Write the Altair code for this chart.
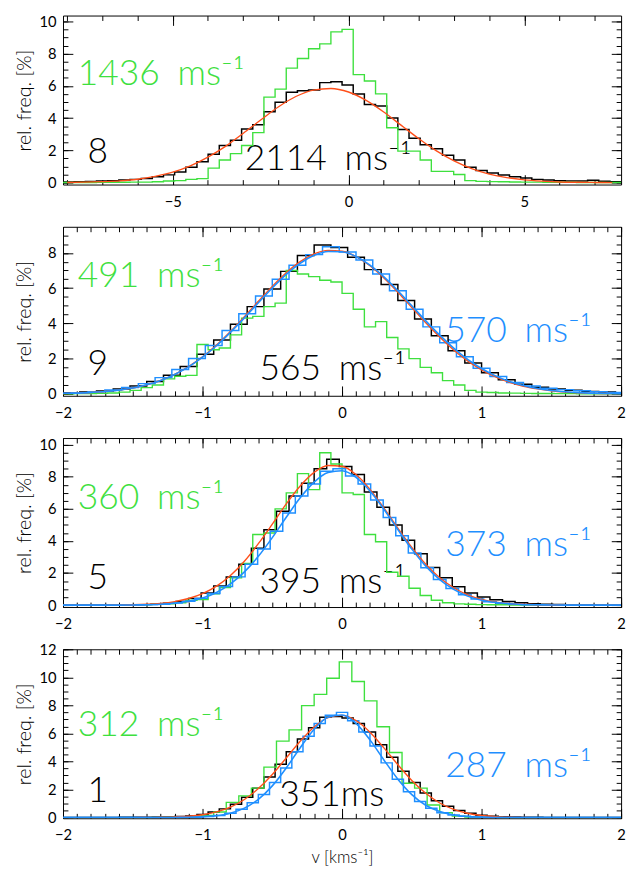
import altair as alt
import numpy as np
import pandas as pd

# ---------------- colours / fonts ----------------
GREEN = "#3ee03e"
BLACK = "#000000"
RED = "#ff4f1a"
BLUE = "#1f8fff"
FONT = "Lato"

# ---------------- Panel 1 (8) ----------------
P1_BIN0, P1_BINW = -8.12, 0.3174
P1_BLACK = [0.04, 0.05, 0.07, 0.10, 0.12, 0.16, 0.20, 0.26, 0.36, 0.48,
            0.66, 0.95, 1.30, 1.76, 2.30, 2.63, 3.33, 3.59, 4.39, 4.99,
            5.60, 5.70, 5.75, 6.20, 6.25, 6.05, 5.50, 4.85, 4.75, 4.00,
            3.30, 2.75, 2.35, 2.10, 1.70, 1.40, 0.95, 0.75, 0.60, 0.47,
            0.37, 0.28, 0.20, 0.16, 0.12, 0.10, 0.10, 0.14, 0.08, 0.06]
P1_GREEN = [0.01, 0.01, 0.01, 0.02, 0.02, 0.02, 0.03, 0.03, 0.05, 0.10,
            0.12, 0.20, 0.25, 0.90, 1.40, 1.80, 2.30, 3.10, 5.30, 5.80,
            7.10, 7.70, 8.30, 8.60, 9.35, 9.50, 6.70, 6.30, 5.50, 3.40,
            1.95, 1.95, 1.40, 0.70, 0.70, 0.50, 0.12, 0.08, 0.06, 0.05,
            0.04, 0.03, 0.03, 0.02, 0.02, 0.02, 0.01, 0.01, 0.01, 0.01]
P1_CX0, P1_CDX = -8.0, 0.5
P1_RED = [0.01, 0.03, 0.06, 0.11, 0.21, 0.39, 0.65, 1.04, 1.58, 2.25,
          3.05, 3.88, 4.69, 5.34, 5.74, 5.84, 5.62, 5.10, 4.38, 3.55,
          2.72, 1.97, 1.35, 0.87, 0.53, 0.31, 0.17, 0.09, 0.04, 0.02,
          0.01, 0.00]

# ---------------- Panel 2 (9) ----------------
P2_BLACK0, P2_BLACKW = -2.0, 0.12
P2_BLACK = [0.06, 0.10, 0.16, 0.28, 0.45, 0.70, 1.05, 1.55, 2.25, 3.05,
            3.95, 4.95, 5.95, 6.95, 7.85, 8.45, 8.30, 7.75, 7.05, 6.20,
            5.30, 4.25, 3.30, 2.45, 1.75, 1.20, 0.80, 0.55, 0.38, 0.27,
            0.20, 0.14, 0.10, 0.06]
P2_BLUE0, P2_BLUEW = -2.06, 0.12
P2_BLUE = [0.04, 0.06, 0.12, 0.22, 0.36, 0.58, 0.92, 1.38, 2.00, 2.75,
           3.60, 4.55, 5.55, 6.50, 7.30, 7.90, 8.35, 8.05, 7.60, 6.80,
           5.85, 4.80, 3.80, 2.90, 2.10, 1.45, 0.98, 0.65, 0.45, 0.32,
           0.24, 0.18, 0.12, 0.08]
P2_GREEN0, P2_GREENW = -2.0, 0.08
P2_GREEN = [0.00, 0.01, 0.02, 0.03, 0.05, 0.10, 0.20, 0.35, 0.50, 0.85,
            1.00, 1.05, 2.80, 2.50, 2.60, 3.35, 4.30, 4.40, 4.95, 5.15,
            7.00, 6.80, 6.65, 6.45, 6.35, 5.70, 4.80, 3.80, 4.10, 3.20,
            2.55, 2.00, 1.50, 1.20, 0.75, 0.50, 0.20, 0.10, 0.08, 0.05,
            0.04, 0.03, 0.02, 0.02, 0.01, 0.01, 0.00, 0.00, 0.00, 0.00]
CX0, CDX = -2.0, 0.1
P2_RED = [0.02, 0.04, 0.08, 0.13, 0.21, 0.33, 0.51, 0.76, 1.10, 1.55,
          2.10, 2.77, 3.54, 4.38, 5.25, 6.10, 6.87, 7.50, 7.94, 8.14,
          8.09, 7.79, 7.27, 6.58, 5.77, 4.90, 4.03, 3.22, 2.49, 1.87,
          1.36, 0.96, 0.65, 0.43, 0.28, 0.17, 0.10, 0.06, 0.03, 0.02, 0.01]
P2_BLUEC = [0.03, 0.04, 0.08, 0.13, 0.21, 0.33, 0.51, 0.76, 1.10, 1.53,
            2.08, 2.73, 3.49, 4.31, 5.17, 6.01, 6.78, 7.41, 7.86, 8.08,
            8.06, 7.79, 7.30, 6.64, 5.85, 5.00, 4.14, 3.33, 2.60, 1.96,
            1.44, 1.02, 0.70, 0.47, 0.30, 0.19, 0.12, 0.07, 0.04, 0.02, 0.01]

# ---------------- Panel 3 (5) ----------------
P3_BLACK0, P3_BLACKW = -2.0, 0.09
P3_BLACK = [0.01, 0.01, 0.01, 0.01, 0.01, 0.02, 0.03, 0.06, 0.12, 0.22, 0.42,
            0.75, 1.20, 1.75, 2.55, 3.55, 4.70, 5.85, 6.80, 7.60, 8.50,
            9.10, 8.65, 8.15, 7.05, 6.10, 5.00, 4.05, 3.20, 2.35, 1.70,
            1.15, 0.75, 0.50, 0.33, 0.22, 0.14, 0.09, 0.06, 0.04, 0.03,
            0.02, 0.02, 0.01, 0.01]
P3_BLUE0, P3_BLUEW = -2.045, 0.09
P3_BLUE = [0.00, 0.00, 0.00, 0.00, 0.00, 0.01, 0.01, 0.03, 0.06, 0.13,
           0.24, 0.42, 0.72, 1.16, 1.76, 2.55, 3.50, 4.60, 5.74, 6.80,
           7.55, 8.35, 8.50, 8.05, 7.55, 6.55, 5.47, 4.33, 3.25, 2.33,
           1.59, 1.04, 0.65, 0.38, 0.21, 0.11, 0.06, 0.03, 0.02, 0.01,
           0.01, 0.00, 0.00, 0.00, 0.00, 0.00]
P3_GREEN0, P3_GREENW = -2.0, 0.08
P3_GREEN = [0.00, 0.00, 0.00, 0.00, 0.01, 0.01, 0.02, 0.03, 0.05, 0.08,
            0.15, 0.30, 0.35, 0.70, 1.10, 1.70, 2.60, 4.40, 4.50, 6.00,
            7.00, 8.20, 7.20, 9.50, 8.80, 7.00, 6.90, 4.40, 3.95, 2.05,
            1.80, 1.05, 0.60, 0.30, 0.15, 0.08, 0.05, 0.03, 0.02, 0.02,
            0.01, 0.01, 0.01, 0.00, 0.00, 0.00, 0.00, 0.00, 0.00, 0.00]
P3_RED = [0.00, 0.00, 0.00, 0.00, 0.01, 0.02, 0.05, 0.11, 0.22, 0.41,
          0.71, 1.18, 1.85, 2.74, 3.83, 5.05, 6.31, 7.43, 8.28, 8.71,
          8.66, 8.14, 7.22, 6.06, 4.80, 3.60, 2.55, 1.70, 1.08, 0.64,
          0.36, 0.19, 0.10, 0.05, 0.02, 0.01, 0.00, 0.00, 0.00, 0.00, 0.00]
P3_BLUEC = [0.00, 0.00, 0.00, 0.00, 0.00, 0.01, 0.02, 0.05, 0.12, 0.24,
            0.44, 0.79, 1.32, 2.07, 3.04, 4.21, 5.48, 6.69, 7.67, 8.27,
            8.38, 7.97, 7.12, 5.98, 4.71, 3.49, 2.43, 1.59, 0.98, 0.56,
            0.30, 0.16, 0.08, 0.03, 0.02, 0.01, 0.00, 0.00, 0.00, 0.00, 0.00]

# ---------------- Panel 4 (1) ----------------
P4_BLACK0, P4_BLACKW = -2.0, 0.08
P4_BLACK = [0.00, 0.00, 0.00, 0.01, 0.01, 0.02, 0.02, 0.03, 0.04, 0.06,
            0.08, 0.12, 0.22, 0.40, 0.62, 0.95, 1.45, 2.10, 2.90, 3.80,
            4.70, 5.60, 6.40, 7.15, 7.20, 7.10, 6.70, 6.10, 5.20, 4.30,
            3.30, 2.50, 1.75, 1.20, 0.80, 0.50, 0.30, 0.17, 0.10, 0.06,
            0.04, 0.03, 0.02, 0.01, 0.01, 0.00, 0.00, 0.00, 0.00, 0.00]
P4_BLUE0, P4_BLUEW = -2.04, 0.08
P4_BLUE = [0.00, 0.00, 0.00, 0.00, 0.00, 0.00, 0.00, 0.00, 0.00, 0.01,
           0.01, 0.02, 0.04, 0.07, 0.15, 0.31, 0.60, 1.05, 1.65, 2.50,
           3.54, 4.70, 5.80, 6.70, 7.30, 7.50, 6.90, 6.10, 5.10, 3.90,
           2.74, 1.84, 1.15, 0.66, 0.35, 0.19, 0.09, 0.04, 0.02, 0.01,
           0.01, 0.00, 0.00, 0.00, 0.00, 0.00, 0.00, 0.00, 0.00, 0.00, 0.00]
P4_GREEN0, P4_GREENW = -2.0, 0.09
P4_GREEN = [0.00, 0.00, 0.00, 0.00, 0.00, 0.00, 0.00, 0.01, 0.02, 0.03,
            0.05, 0.16, 0.40, 1.08, 1.55, 2.10, 3.60, 5.45, 6.25, 7.98,
            8.78, 9.93, 11.10, 9.70, 8.32, 6.48, 4.64, 2.45, 2.10, 0.90,
            0.35, 0.10, 0.04, 0.02, 0.01, 0.00, 0.00, 0.00, 0.00, 0.00,
            0.00, 0.00, 0.00, 0.00, 0.00]
P4_RED = [0.00, 0.00, 0.00, 0.00, 0.00, 0.00, 0.01, 0.02, 0.04, 0.09,
          0.20, 0.40, 0.74, 1.29, 2.07, 3.07, 4.25, 5.44, 6.46, 7.13,
          7.29, 6.92, 6.09, 4.97, 3.77, 2.65, 1.73, 1.04, 0.59, 0.31,
          0.15, 0.07, 0.03, 0.01, 0.00, 0.00, 0.00, 0.00, 0.00, 0.00, 0.00]
P4_BLUEC = [0.00, 0.00, 0.00, 0.00, 0.00, 0.00, 0.00, 0.00, 0.01, 0.02,
            0.05, 0.13, 0.31, 0.67, 1.30, 2.26, 3.54, 4.98, 6.30, 7.16,
            7.31, 6.72, 5.54, 4.11, 2.74, 1.64, 0.88, 0.43, 0.19, 0.07,
            0.03, 0.01, 0.00, 0.00, 0.00, 0.00, 0.00, 0.00, 0.00, 0.00, 0.00]

# ---------------- labels ----------------
SP = "\u2002"
SUP = "\u207b\u00b9"
P1_TEXT = [("1436" + SP + "ms" + SUP, 15, 71, GREEN), ("8", 25, 150, BLACK),
           ("2114" + SP + "ms" + SUP, 185, 157, BLACK)]
P2_TEXT = [("491" + SP + "ms" + SUP, 15, 61, GREEN), ("9", 25, 151, BLACK),
           ("565" + SP + "ms" + SUP, 200, 156, BLACK),
           ("570" + SP + "ms" + SUP, 389, 117, BLUE)]
P3_TEXT = [("360" + SP + "ms" + SUP, 15, 72, GREEN), ("5", 25, 154, BLACK),
           ("395" + SP + "ms" + SUP, 200, 158, BLACK),
           ("373" + SP + "ms" + SUP, 389, 120, BLUE)]
P4_TEXT = [("312" + SP + "ms" + SUP, 15, 88, GREEN), ("1", 25, 155, BLACK),
           ("351ms", 220, 160, BLACK), ("287" + SP + "ms" + SUP, 389, 130, BLUE)]
Y_TITLE = "rel. freq. [%]"
X_TITLE = "v [kms" + SUP + "]"

W, H = 568, 172


def hist_df(x0, w, vals):
    edges = x0 + w * np.arange(len(vals) + 1)
    return pd.DataFrame({"x": edges, "v": list(vals) + [vals[-1]]})


def curve_df(x0, dx, vals):
    return pd.DataFrame({"x": x0 + dx * np.arange(len(vals)), "v": vals})


def tick_axis(orient, values, size):
    return alt.Axis(orient=orient, values=values, offset=-size, tickSize=size,
                    ticks=True, labels=False, domain=False, grid=False,
                    title=None, tickColor="black", tickWidth=1)


def rng(a, b, s):
    return [round(float(v), 3) for v in np.arange(a, b + s / 2, s)]


def panel(xdom, ydom, xmaj, xmin, ymaj, ymin, hists, curves, texts, xtitle):
    xs = alt.Scale(domain=xdom, nice=False, zero=False)
    ys = alt.Scale(domain=ydom, nice=False, zero=False)
    layers = []
    for (t, px, py, c) in texts:
        layers.append(
            alt.Chart(pd.DataFrame({"t": [t]})).mark_text(
                text=t, font=FONT, fontSize=36, fontWeight=300, color=c,
                align="left", baseline="alphabetic"
            ).encode(x=alt.value(px), y=alt.value(py))
        )
    for df, c, sw in hists:
        layers.append(
            alt.Chart(df).mark_line(interpolate="step-after", color=c,
                                    strokeWidth=sw, clip=True).encode(
                x=alt.X("x:Q", scale=xs, axis=None),
                y=alt.Y("v:Q", scale=ys, axis=None))
        )
    for df, c, sw in curves:
        layers.append(
            alt.Chart(df).mark_line(interpolate="monotone", color=c,
                                    strokeWidth=sw, clip=True).encode(
                x=alt.X("x:Q", scale=xs, axis=None),
                y=alt.Y("v:Q", scale=ys, axis=None))
        )
    xkw = dict(orient="bottom", values=xmaj, ticks=False, tickSize=0,
               domain=False, grid=False, labelPadding=10, labelFlush=False,
               format="d")
    if xtitle:
        xkw.update(title=xtitle, titleY=45, titleBaseline="alphabetic",
                   titleFontSize=17)
    else:
        xkw.update(title=None)
    main_x = alt.Axis(**xkw)
    main_y = alt.Axis(orient="left", values=ymaj, ticks=False, tickSize=0,
                      domain=False, grid=False, labelPadding=7,
                      labelFlush=False, format="d", title=Y_TITLE,
                      titleX=-33, titleY=H / 2, titleAngle=270,
                      titleAlign="center", titleBaseline="alphabetic")
    axes = [
        (main_x, main_y),
        (tick_axis("bottom", xmaj, 10), tick_axis("left", ymaj, 10)),
        (tick_axis("bottom", xmin, 5), tick_axis("left", ymin, 5)),
        (tick_axis("top", xmaj, 10), tick_axis("right", ymaj, 10)),
        (tick_axis("top", xmin, 5), tick_axis("right", ymin, 5)),
    ]
    base = hists[0][0]
    for ax, ay in axes:
        layers.append(
            alt.Chart(base).mark_point(opacity=0, clip=True).encode(
                x=alt.X("x:Q", scale=xs, axis=ax),
                y=alt.Y("v:Q", scale=ys, axis=ay))
        )
    return alt.layer(*layers).resolve_axis(x="independent", y="independent").properties(
        width=W, height=H)


x2maj = [-2, -1, 0, 1, 2]
x2min = rng(-2, 2, 0.1)

p1 = panel([-8.12, 7.75], [-0.12, 10.36], [-5, 0, 5], rng(-8, 7, 1),
           [0, 2, 4, 6, 8, 10], rng(0, 10, 0.5),
           [(hist_df(P1_BIN0, P1_BINW, P1_BLACK), BLACK, 1.5),
            (hist_df(P1_BIN0, P1_BINW, P1_GREEN), GREEN, 1.4)],
           [(curve_df(P1_CX0, P1_CDX, P1_RED), RED, 1.4)],
           P1_TEXT, None)

p2 = panel([-2, 2], [-0.11, 9.48], x2maj, x2min,
           [0, 2, 4, 6, 8], rng(0, 9, 0.5),
           [(hist_df(P2_BLACK0, P2_BLACKW, P2_BLACK), BLACK, 1.5),
            (hist_df(P2_GREEN0, P2_GREENW, P2_GREEN), GREEN, 1.4),
            (hist_df(P2_BLUE0, P2_BLUEW, P2_BLUE), BLUE, 1.5)],
           [(curve_df(CX0, CDX, P2_RED), RED, 1.4),
            (curve_df(CX0, CDX, P2_BLUEC), BLUE, 1.6)],
           P2_TEXT, None)

p3 = panel([-2, 2], [-0.12, 10.42], x2maj, x2min,
           [0, 2, 4, 6, 8, 10], rng(0, 10, 0.5),
           [(hist_df(P3_BLACK0, P3_BLACKW, P3_BLACK), BLACK, 1.5),
            (hist_df(P3_GREEN0, P3_GREENW, P3_GREEN), GREEN, 1.4),
            (hist_df(P3_BLUE0, P3_BLUEW, P3_BLUE), BLUE, 1.5)],
           [(curve_df(CX0, CDX, P3_RED), RED, 1.4),
            (curve_df(CX0, CDX, P3_BLUEC), BLUE, 1.6)],
           P3_TEXT, None)

p4 = panel([-2, 2], [-0.05, 12.0], x2maj, x2min,
           [0, 2, 4, 6, 8, 10, 12], rng(0, 12, 0.5),
           [(hist_df(P4_BLACK0, P4_BLACKW, P4_BLACK), BLACK, 1.5),
            (hist_df(P4_GREEN0, P4_GREENW, P4_GREEN), GREEN, 1.4),
            (hist_df(P4_BLUE0, P4_BLUEW, P4_BLUE), BLUE, 1.5)],
           [(curve_df(CX0, CDX, P4_RED), RED, 1.4),
            (curve_df(CX0, CDX, P4_BLUEC), BLUE, 1.6)],
           P4_TEXT, X_TITLE)

chart = alt.VConcatChart(vconcat=[p1, p2, p3, p4], spacing=43, bounds="flush").properties(
    padding={"left": 6, "top": -2, "right": 0, "bottom": -2}
).configure_view(stroke="black", strokeWidth=1).configure_axis(
    labelFont=FONT, labelFontSize=15, labelColor="black", labelFontWeight="normal",
    titleFont=FONT, titleFontSize=20, titleFontWeight=300, titleColor="black"
)

chart.save("out.html", embed_options={"renderer": "svg", "actions": False})
